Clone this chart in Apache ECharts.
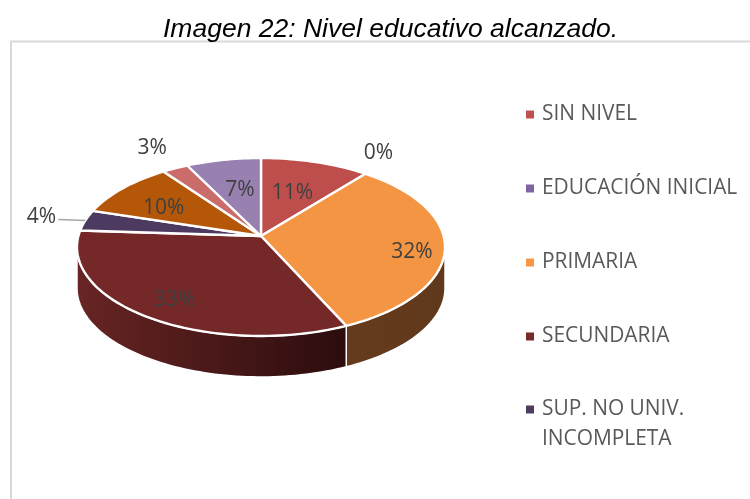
<!DOCTYPE html>
<html><head><meta charset="utf-8">
<style>html,body{margin:0;padding:0;background:#fff}#c{width:750px;height:499px}</style>
<script src="https://cdn.jsdelivr.net/npm/echarts@6/dist/echarts.min.js"></script>
</head><body><div id="c"></div>
<script>
// Data, clockwise from 12 o'clock (percentages read from the slice boundaries)
const categories = ['SIN NIVEL','EDUCACIÓN INICIAL','PRIMARIA','SECUNDARIA','SUP. NO UNIV.\nINCOMPLETA','SUP. NO UNIV. COMPLETA','SUP. UNIV. INCOMPLETA','SUP. UNIV. COMPLETA'];
const values = [10.8,0,32.4,32.8,3.8,10.2,2.6,7.4];
const legendMain = categories.slice(0,4);
const legendLast = categories.slice(4,5);

// Styles
const topColors = ['#BE4E4B','#8064A2','#F49543','#742828','#4C3A60','#B45708','#C96C6A','#9880B1'];
const legendColors = ['#C0504D','#8064A2','#F79646','#772C2A','#4D3B62','#B45708','#C96C6A','#9880B1'];
const wallColors = [null,null,['#663B1D','#60381B'],['#682524','#2C0C0D'],null,null,null,null];
// label offset from the slice's rim midpoint, px
const labelOffsets = [[-23,31],[13,-21],[-33,5],[29,-16],[-44,-3],[41,20],[-23,-20],[16.5,30]];
const leaderEnd = {4:[-27,-1]};

// Projection of the tilted disc
const CX=261, CY=236, A=182.6, B=87.6, K=0.1237, DEPTH=41;
function rim(deg){
  const t=deg*Math.PI/180, u=Math.sin(t), v=Math.cos(t), d=1+K*v;
  return [CX+A*u/d, CY-B*v/d];
}
function arc(a0,a1){
  const n=Math.max(2,Math.ceil(Math.abs(a1-a0)/1.5)), p=[];
  for(let i=0;i<=n;i++) p.push(rim(a0+(a1-a0)*i/n));
  return p;
}
const total=values.reduce((s,v)=>s+v,0);
const starts=[]; values.reduce((s,v,i)=>{starts[i]=s;return s+v},0);
const WALL_R=97.1, WALL_L=262.9;

function makeRender(i){
  return function(params,api){
    const val=api.value(0);
    const a0=starts[i]/total*360, a1=a0+val/total*360, mid=(a0+a1)/2;
    const kids=[];
    if(val>0){
      const w0=Math.max(a0,WALL_R), w1=Math.min(a1,WALL_L);
      if(w1>w0 && wallColors[i]){
        const t=arc(w0,w1), b=t.slice().reverse().map(p=>[p[0],p[1]+DEPTH]);
        kids.push({type:'polygon',z2:1,shape:{points:t.concat(b)},
          style:{fill:new echarts.graphic.LinearGradient(0,0,1,0,[{offset:0,color:wallColors[i][0]},{offset:1,color:wallColors[i][1]}]),
                 stroke:'#fff',lineWidth:1.5,lineJoin:'round'}});
      }
      kids.push({type:'polygon',z2:2,shape:{points:[[CX,CY]].concat(arc(a0,a1))},
        style:{fill:topColors[i],stroke:'#fff',lineWidth:2.4,lineJoin:'round'}});
    }
    const m=rim(mid), off=labelOffsets[i];
    if(leaderEnd[i]) kids.push({type:'line',z2:3,shape:{x1:m[0],y1:m[1],x2:m[0]+leaderEnd[i][0],y2:m[1]+leaderEnd[i][1]},
      style:{stroke:'#A6A6A6',lineWidth:1.5}});
    kids.push({type:'text',z2:4,x:m[0]+off[0],y:m[1]+off[1],
      style:{text:Math.round(val/total*100)+'%',fill:'#404040',font:'21px "Open Sans"',align:'center',verticalAlign:'middle'}});
    return {type:'group',children:kids};
  };
}

const legendText={rich:{a:{fontFamily:'Open Sans',fontSize:20.9,color:'#595959',lineHeight:30,padding:[0,0,0,3]}}};
const legendBase={orient:'vertical',left:521,icon:'rect',itemWidth:8,itemHeight:8,selectedMode:false,textStyle:legendText};

const chart=echarts.init(document.getElementById('c'),null,{renderer:'canvas'});
chart.setOption({
  animation:false,
  backgroundColor:'#fff',
  title:{text:'Imagen 22: Nivel educativo alcanzado.',left:158,top:11,itemGap:0,
    textStyle:{fontFamily:'Liberation Sans',fontStyle:'italic',fontWeight:'normal',fontSize:26.5,color:'#000'}},
  legend:[
    Object.assign({},legendBase,{top:99,itemGap:53,data:legendMain,formatter:n=>'{a|'+n+'}'}),
    Object.assign({},legendBase,{top:364,data:legendLast,formatter:n=>['{a| }'].concat(n.split('\n').map(l=>'{a|'+l+'}')).join('\n')})
  ],
  graphic:[{type:'rect',silent:true,z:-1,shape:{x:11,y:41.5,width:760,height:480},style:{fill:'none',stroke:'#D9D9D9',lineWidth:2}}],
  series:categories.map((name,i)=>({
    type:'custom',name,coordinateSystem:'none',
    itemStyle:{color:legendColors[i]},
    data:[[values[i]]],
    renderItem:makeRender(i)
  }))
});
</script></body></html>
